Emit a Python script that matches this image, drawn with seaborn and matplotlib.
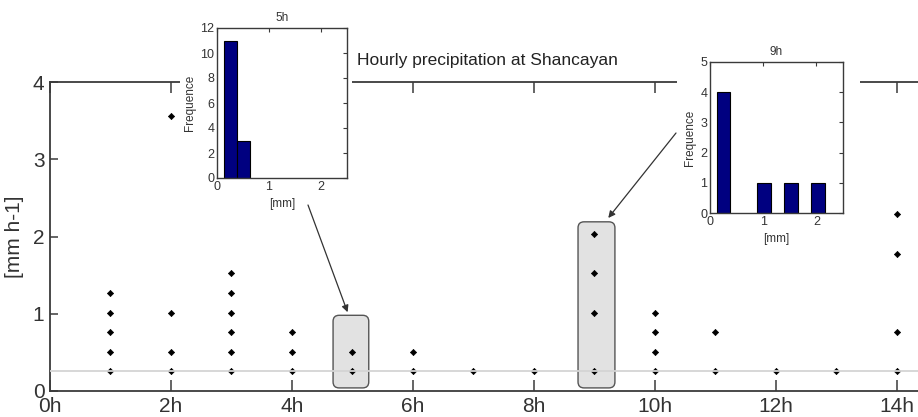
import numpy as np
import pandas as pd
import seaborn as sns
import matplotlib
matplotlib.use("Agg")
import matplotlib.pyplot as plt
from matplotlib import font_manager
from matplotlib.patches import FancyBboxPatch, Rectangle

# ---- data ----
hours = [1, 1, 1, 1, 1,
         2, 2, 2, 2,
         3, 3, 3, 3, 3, 3,
         4, 4, 4,
         5, 5,
         6, 6,
         7,
         8,
         9, 9, 9, 9,
         10, 10, 10, 10,
         11, 11,
         12,
         13,
         14, 14, 14, 14]
rates = [0.254, 0.508, 0.762, 1.016, 1.270,
         0.254, 0.508, 1.016, 3.556,
         0.254, 0.508, 0.762, 1.016, 1.270, 1.524,
         0.254, 0.508, 0.762,
         0.254, 0.508,
         0.254, 0.508,
         0.254,
         0.254,
         0.254, 1.016, 1.524, 2.032,
         0.254, 0.508, 0.762, 1.016,
         0.254, 0.762,
         0.254,
         0.254,
         0.254, 0.762, 1.778, 2.286]
threshold = 0.254
xtick_vals = [0, 2, 4, 6, 8, 10, 12, 14]
xtick_labels = ["0h", "2h", "4h", "6h", "8h", "10h", "12h", "14h"]
ytick_vals = [0, 1, 2, 3, 4]

hist5_centers = [0.254, 0.508]
hist5_counts = [11, 3]
hist9_centers = [0.254, 1.016, 1.524, 2.032]
hist9_counts = [4, 1, 1, 1]

df = pd.DataFrame({"hour": hours, "rate": rates})

sns.set_style("white")
names = {f.name for f in font_manager.fontManager.ttflist}
narrow = "Liberation Sans Narrow" if "Liberation Sans Narrow" in names else "Liberation Sans"
plt.rcParams["font.family"] = [narrow, "Liberation Sans", "DejaVu Sans"]

W, H = 918, 417
fig = plt.figure(figsize=(W / 100, H / 100), dpi=100)

def fx(px):
    return px / W

def fy(py):
    return 1 - py / H

spine_col = "#3a3a3a"
text_col = "#333333"

# main axes (extends past the right edge, as in the cropped original)
left, right, top, bottom = 50, 924, 82, 391
ax = fig.add_axes([fx(left), fy(bottom), fx(right - left), (bottom - top) / H])
ax.set_xlim(0, 14.45)
ax.set_ylim(0, 4)

# highlight boxes
box_col = "#e2e2e2"
for (x0, x1, y0, y1) in [(4.68, 5.27, 0.04, 0.98), (8.73, 9.34, 0.04, 2.19)]:
    p = FancyBboxPatch((x0, y0), x1 - x0, y1 - y0,
                       boxstyle="round,pad=0,rounding_size=0.1",
                       mutation_aspect=0.78, facecolor=box_col,
                       edgecolor="#555555", linewidth=1.0, zorder=1)
    ax.add_patch(p)

sns.scatterplot(data=df, x="hour", y="rate", ax=ax, marker="D", s=10,
                color="black", edgecolor="black", linewidth=0.5, zorder=3,
                legend=False)
ax.axhline(threshold, color="#d4d4d4", lw=1.3, zorder=4)

ax.set_xticks(xtick_vals)
ax.set_xticklabels(xtick_labels)
ax.set_yticks(ytick_vals)
ax.set_xlabel("")
ax.set_ylabel("[mm h-1]", fontsize=15, color=text_col, labelpad=6)
ax.tick_params(axis="both", direction="in", length=8, width=1.1,
               color=spine_col, labelsize=15, labelcolor=text_col,
               top=True, right=False, bottom=True, left=True, pad=4)
ax.tick_params(axis="y", length=6)
for s in ax.spines.values():
    s.set_visible(True)
    s.set_color(spine_col)
    s.set_linewidth(1.3)
ax.set_facecolor("white")

fig.text(fx(487), fy(60), "Hourly precipitation at Shancayan",
         ha="center", va="center", fontsize=12.5, color="#222222",
         family=["Liberation Sans", "DejaVu Sans"])

# white backgrounds behind insets (they hide the top frame)
fig.patches.append(Rectangle((fx(180), fy(200)), fx(352 - 180), 200 / H,
                             transform=fig.transFigure, facecolor="white",
                             edgecolor="none", zorder=5))
fig.patches.append(Rectangle((fx(677), fy(226)), fx(860 - 677), 226 / H,
                             transform=fig.transFigure, facecolor="white",
                             edgecolor="none", zorder=5))

def make_inset(rect, centers, counts, ymax, yticks, title):
    a = fig.add_axes(rect, zorder=6)
    a.bar(centers, counts, width=0.254, color="#000080",
          edgecolor="black", linewidth=0.8)
    a.set_xlim(0, 2.5)
    a.set_ylim(0, ymax)
    a.set_xticks([0, 1, 2])
    a.set_yticks(yticks)
    a.set_title(title, fontsize=8.5, color=text_col, pad=5)
    a.set_xlabel("[mm]", fontsize=8.5, color=text_col, labelpad=4)
    a.set_ylabel("Frequence", fontsize=8.5, color=text_col, labelpad=3)
    a.tick_params(axis="both", direction="in", length=3, width=0.8,
                  color=spine_col, labelsize=9, labelcolor=text_col,
                  top=True, right=True, pad=2)
    for s in a.spines.values():
        s.set_visible(True)
        s.set_color(spine_col)
        s.set_linewidth(1.0)
    a.set_facecolor("white")
    return a

make_inset([fx(217), fy(178), fx(130), 150 / H], hist5_centers, hist5_counts,
           12, [0, 2, 4, 6, 8, 10, 12], "5h")
make_inset([fx(710), fy(213), fx(133), 151 / H], hist9_centers, hist9_counts,
           5, [0, 1, 2, 3, 4, 5], "9h")

# arrows from insets to highlighted hours
arrowprops = dict(arrowstyle="-|>", color="#333333", lw=0.9,
                  mutation_scale=10, shrinkA=0, shrinkB=0)
ax.annotate("", xy=(4.92, 1.02), xycoords="data",
            xytext=(fx(308), fy(205)), textcoords="figure fraction",
            arrowprops=arrowprops, zorder=7, annotation_clip=False)
ax.annotate("", xy=(9.23, 2.24), xycoords="data",
            xytext=(fx(676), fy(133)), textcoords="figure fraction",
            arrowprops=arrowprops, zorder=7, annotation_clip=False)

fig.savefig("out.png", dpi=100)
